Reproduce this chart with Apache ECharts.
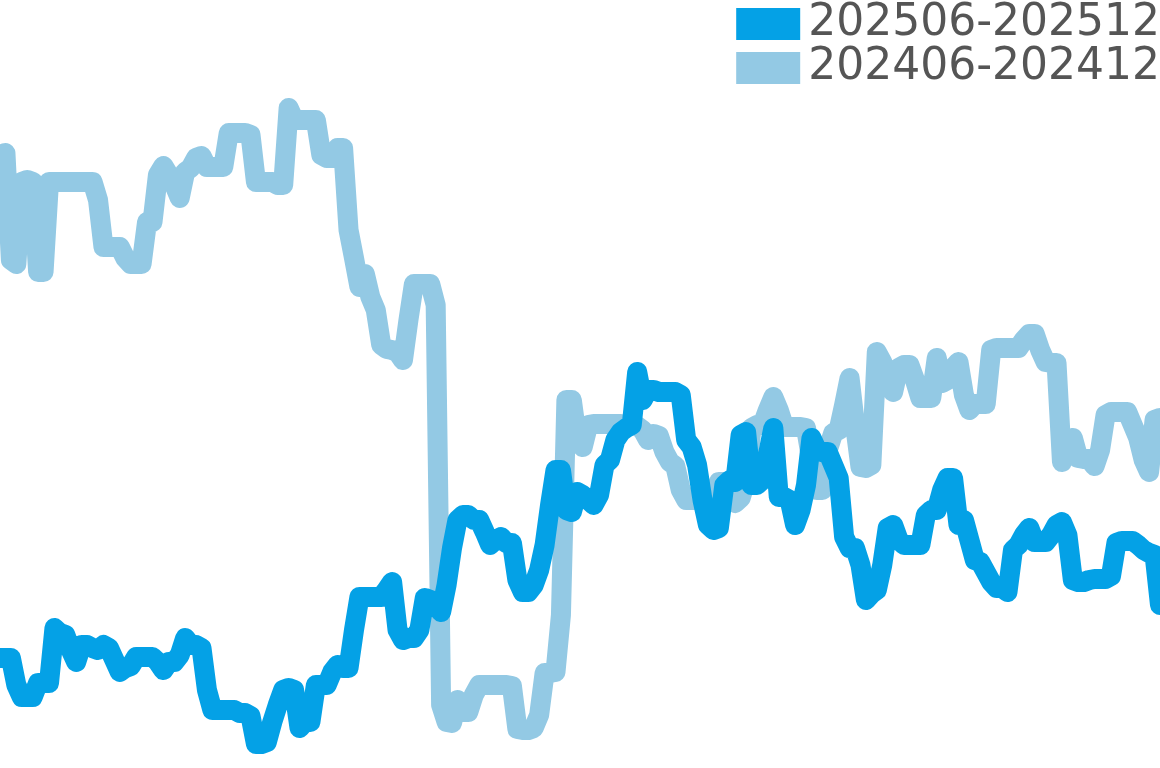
<!DOCTYPE html>
<html>
<head>
<meta charset="utf-8">
<script src="https://cdn.jsdelivr.net/npm/echarts@6/dist/echarts.min.js"></script>
<style>
html,body{margin:0;padding:0;background:#fff;}
#chart{width:1160px;height:768px;}
</style>
</head>
<body>
<div id="chart"></div>
<script>
var seriesNames = ['202506-202512', '202406-202412'];

// daily categories (Jun 1 – Dec 31)
var categories = [];
(function () {
  var monthDays = [30, 31, 31, 30, 31, 30, 31];
  for (var m = 0; m < monthDays.length; m++) {
    for (var d = 1; d <= monthDays[m]; d++) {
      categories.push((m + 6) + '/' + d);
    }
  }
})();

var values2025 = [
11.0,11.0,11.0,8.3,7.1,7.1,7.1,8.5,8.5,8.5,
14.0,13.5,13.3,11.8,10.6,12.3,12.3,12.0,11.8,12.3,
12.0,10.8,9.6,10.0,10.2,11.1,11.1,11.1,11.1,10.6,
9.8,10.6,10.6,11.3,13.0,12.3,12.3,12.0,7.8,5.8,
5.8,5.8,5.8,5.8,5.5,5.5,5.2,2.4,2.4,2.6,
4.6,6.3,7.8,8.0,7.8,4.0,4.6,4.6,8.3,8.3,
8.3,9.6,10.3,10.0,10.0,13.8,17.1,17.1,17.1,17.1,
17.1,17.8,18.6,13.8,12.8,13.0,13.0,13.8,17.0,16.8,
16.3,15.6,18.3,22.0,24.8,25.3,25.3,24.8,24.8,23.6,
22.3,22.8,23.1,22.5,22.5,18.8,17.6,17.6,18.3,19.8,
22.3,26.3,29.8,29.8,25.8,25.6,27.6,27.3,26.8,26.3,
27.3,30.3,30.8,32.8,33.6,34.0,34.3,39.6,36.8,37.8,
37.8,37.6,37.6,37.6,37.6,37.3,32.8,32.1,30.3,26.8,
24.3,23.8,24.0,28.3,28.8,28.6,33.3,33.6,28.3,28.3,
28.8,31.3,34.0,27.1,27.1,26.8,24.3,25.8,28.3,33.0,
31.8,31.6,31.6,30.3,29.0,23.1,22.0,22.0,20.3,16.8,
17.4,17.8,20.3,24.0,24.3,22.8,22.3,22.3,22.3,22.3,
25.3,25.8,25.8,27.8,29.0,29.0,24.3,24.8,22.8,20.8,
20.6,19.6,18.6,18.0,18.0,17.6,21.8,22.3,23.3,24.0,
22.6,22.6,22.6,23.3,24.3,24.6,23.3,18.8,18.6,18.6,
18.8,18.9,18.9,18.9,19.2,22.5,22.7,22.7,22.7,22.3,
21.8,21.5,21.3,16.3
];

var values2024 = [
61.3,61.5,50.8,50.4,58.6,58.8,58.6,49.6,49.6,58.6,
58.6,58.6,58.6,58.6,58.6,58.6,58.6,58.6,56.8,52.1,
52.1,52.1,52.1,51.0,50.4,50.4,50.4,54.6,54.6,59.3,
60.2,59.3,58.3,57.0,59.6,60.0,61.0,61.2,60.1,60.1,
60.1,60.1,63.5,63.5,63.5,63.5,63.3,58.6,58.6,58.6,
58.6,58.3,58.3,66.0,64.8,64.8,64.8,64.8,64.8,61.3,
61.0,61.0,62.0,62.0,53.8,51.0,48.1,49.4,47.1,45.8,
42.3,41.9,41.8,41.6,40.8,44.8,48.4,48.4,48.4,48.4,
46.3,6.3,4.6,4.5,6.8,5.6,5.6,7.3,8.3,8.3,
8.3,8.3,8.3,8.3,8.2,3.9,3.8,3.8,4.0,5.3,
9.5,9.5,9.6,15.3,36.8,36.8,32.8,32.1,34.3,34.4,
34.4,34.4,34.4,34.4,34.4,34.3,34.3,34.2,33.8,32.8,
33.4,33.2,31.6,30.6,30.2,27.8,26.8,26.8,26.8,26.8,
26.8,27.3,28.6,28.6,26.8,26.5,27.0,28.8,34.0,34.3,
34.3,35.8,37.1,35.8,34.1,34.1,34.1,34.1,34.0,30.8,
27.8,27.8,31.8,33.5,33.8,36.3,39.0,34.3,30.1,30.0,
30.3,41.6,40.6,38.8,37.6,40.0,40.3,40.3,38.8,37.0,
37.0,37.0,41.0,38.5,38.8,40.0,40.6,37.3,35.8,36.4,
36.4,36.4,41.8,42.0,42.0,42.0,42.0,42.0,42.8,43.4,
43.4,41.8,40.6,40.5,40.5,30.6,32.3,33.0,31.0,30.9,
30.9,30.2,31.8,35.3,35.6,35.6,35.6,35.6,34.3,33.0,
30.8,29.6,34.8,35.0
];

var colorNew = '#04a1e6';
var colorOld = '#93c9e4';
var lineWidth = 20;

var chart = echarts.init(document.getElementById('chart'));
chart.setOption({
  animation: false,
  backgroundColor: '#ffffff',
  grid: { left: 0, right: 0, top: 0, bottom: 0 },
  legend: {
    data: seriesNames,
    orient: 'vertical',
    right: -5,
    top: -3,
    icon: 'rect',
    itemWidth: 64,
    itemHeight: 32,
    itemGap: 0,
    textStyle: { fontSize: 44, color: '#555555', fontFamily: 'DejaVu Sans', padding: [0, 0, 0, 3] }
  },
  xAxis: {
    type: 'category',
    data: categories,
    boundaryGap: false,
    show: false
  },
  yAxis: {
    type: 'value',
    min: 0,
    max: 76.8,
    show: false
  },
  series: [
    {
      name: seriesNames[1],
      type: 'line',
      data: values2024,
      showSymbol: false,
      color: colorOld,
      lineStyle: { width: lineWidth, color: colorOld, join: 'round', cap: 'round' }
    },
    {
      name: seriesNames[0],
      type: 'line',
      data: values2025,
      showSymbol: false,
      color: colorNew,
      lineStyle: { width: lineWidth, color: colorNew, join: 'round', cap: 'round' }
    }
  ]
});
</script>
</body>
</html>
